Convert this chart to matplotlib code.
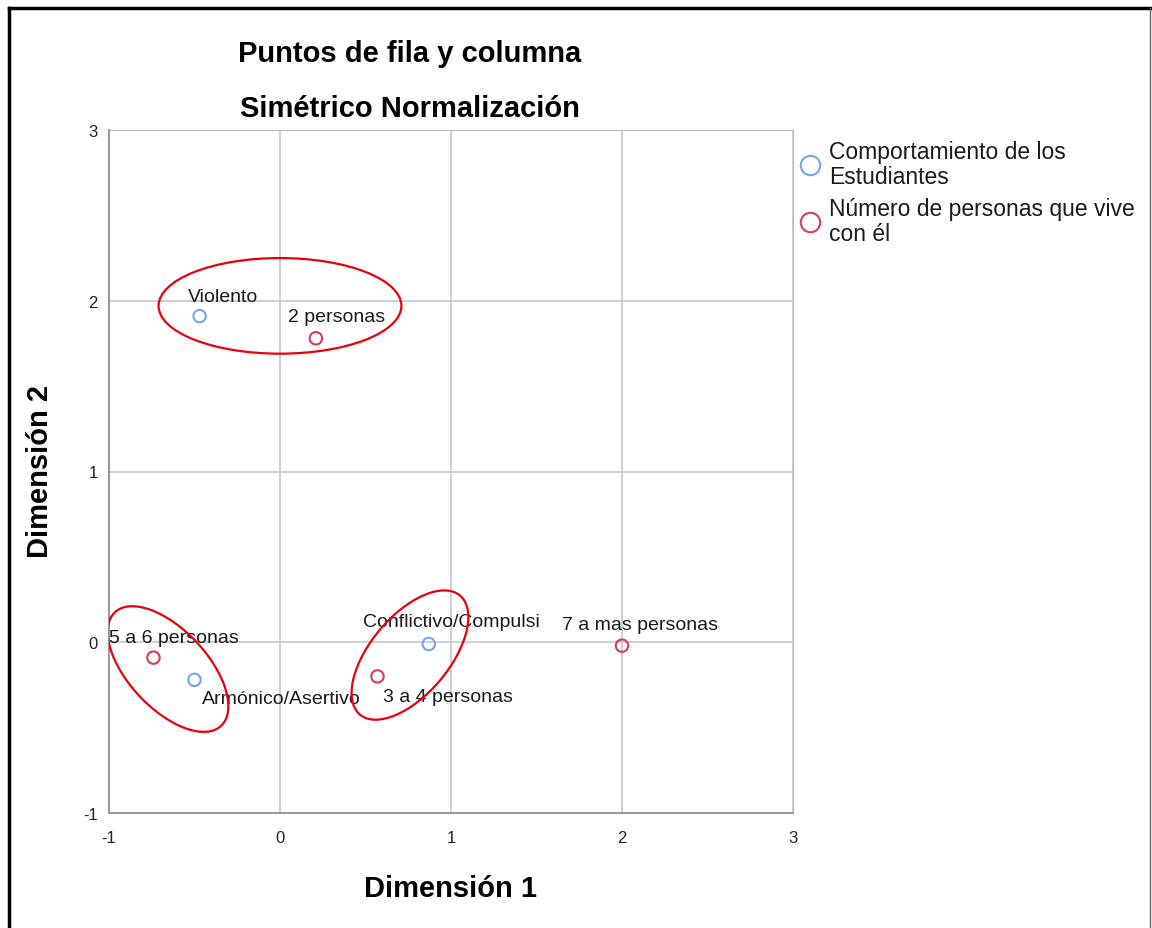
import matplotlib.pyplot as plt
from matplotlib.patches import Ellipse
from matplotlib.lines import Line2D

plt.rcParams['font.family'] = ['Liberation Sans', 'DejaVu Sans']

# row points (Comportamiento de los Estudiantes)
row_labels = ['Violento', 'Armónico/Asertivo', 'Conflictivo/Compulsi']
row_x = [-0.47, -0.50, 0.87]
row_y = [1.91, -0.22, -0.01]

# column points (Número de personas que vive con él)
col_labels = ['2 personas', '5 a 6 personas', '3 a 4 personas', '7 a mas personas']
col_x = [0.21, -0.74, 0.57, 2.00]
col_y = [1.78, -0.09, -0.20, -0.02]

# label offsets in pixels (left edge, vertical centre)
row_off = [(-12, 20), (7, -19), (-66, 22)]
col_off = [(-28, 22), (-44, 20), (6, -20), (-60, 21)]

blue = '#74a6ee'
red = '#d93a5e'

fig = plt.figure(figsize=(11.52, 9.29), dpi=100)
ax = fig.add_axes([109 / 1152, 1 - 814 / 929, 684 / 1152, 683 / 929])

ax.scatter(row_x, row_y, s=80, facecolors='none', edgecolors=blue, linewidths=1.5, zorder=3)
ax.scatter(col_x, col_y, s=80, facecolors='none', edgecolors=red, linewidths=1.5, zorder=3)

for lab, x, y, off in zip(row_labels, row_x, row_y, row_off):
    ax.annotate(lab, (x, y), xytext=off, textcoords='offset pixels',
                ha='left', va='center', fontsize=14, color='#1a1a1a', zorder=4)
for lab, x, y, off in zip(col_labels, col_x, col_y, col_off):
    ax.annotate(lab, (x, y), xytext=off, textcoords='offset pixels',
                ha='left', va='center', fontsize=14, color='#1a1a1a', zorder=4)

# hand-drawn groupings
for (cx, cy), w, h, ang in [((0.0, 1.97), 1.42, 0.56, 0),
                            ((-0.655, -0.157), 0.91, 0.46, -47),
                            ((0.76, -0.075), 0.91, 0.46, 50)]:
    ax.add_patch(Ellipse((cx, cy), w, h, angle=ang, fill=False,
                         edgecolor='#e8000b', linewidth=1.6, zorder=5))

ax.set_xlim(-1, 3)
ax.set_ylim(-1, 3)
ax.set_xticks([-1, 0, 1, 2, 3], ['-1', '0', '1', '2', '3'])
ax.set_yticks([-1, 0, 1, 2, 3], ['-1', '0', '1', '2', '3'])
ax.grid(True, color='#cccccc', linewidth=1.3)
ax.set_axisbelow(True)
ax.tick_params(length=0, labelsize=12, colors='#222222')
ax.tick_params(axis='x', pad=12)
ax.tick_params(axis='y', pad=8)
for s in ax.spines.values():
    s.set_color('#bbbbbb')
ax.spines['left'].set_color('#999999')
ax.spines['bottom'].set_color('#999999')
ax.spines['left'].set_linewidth(1.5)
ax.spines['bottom'].set_linewidth(1.5)

fig.text(410 / 1152, 1 - 54 / 929, 'Puntos de fila y columna', ha='center', va='center',
         fontsize=21, fontweight='bold')
fig.text(410 / 1152, 1 - 109 / 929, 'Simétrico Normalización', ha='center', va='center',
         fontsize=21, fontweight='bold')
fig.text(451 / 1152, 1 - 889 / 929, 'Dimensión 1', ha='center', va='center',
         fontsize=21, fontweight='bold')
fig.text(40 / 1152, 1 - 472 / 929, 'Dimensión 2', ha='center', va='center',
         fontsize=21, fontweight='bold', rotation=90)

handles = [Line2D([], [], marker='o', linestyle='none', markersize=14, markerfacecolor='none',
                  markeredgecolor=blue, markeredgewidth=1.5),
           Line2D([], [], marker='o', linestyle='none', markersize=14, markerfacecolor='none',
                  markeredgecolor=red, markeredgewidth=1.5)]
leg = fig.legend(handles, ['Comportamiento de los\nEstudiantes', 'Número de personas que vive\ncon él'],
                 loc='upper left', bbox_to_anchor=(799 / 1152, 1 - 141 / 929), frameon=False,
                 fontsize=16.5, handletextpad=0.3, handlelength=1.0, labelspacing=0.4,
                 borderaxespad=0, borderpad=0)
for t in leg.get_texts():
    t.set_linespacing(1.1)
    t.set_color('#1a1a1a')

# outer frame of the exported picture
fig.add_artist(Line2D([9 / 1152, 9 / 1152], [0, 1 - 9 / 929], color='black', linewidth=2.5))
fig.add_artist(Line2D([9 / 1152, 1150 / 1152], [1 - 9 / 929, 1 - 9 / 929], color='black', linewidth=2.5))
fig.add_artist(Line2D([1150 / 1152, 1150 / 1152], [0, 1 - 9 / 929], color='#666666', linewidth=1))

fig.savefig('out.png', dpi=100)
